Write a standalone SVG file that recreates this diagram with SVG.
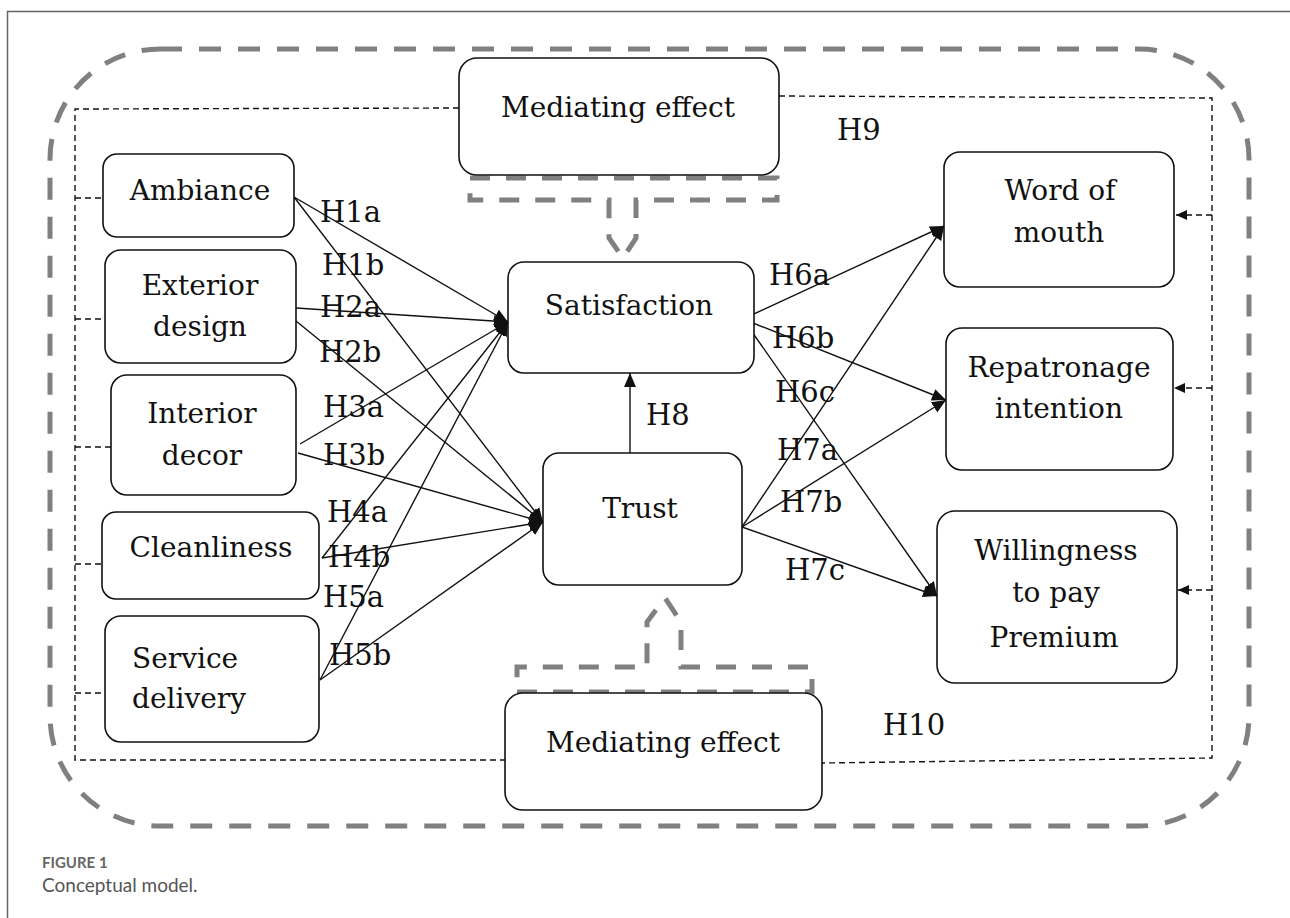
<svg xmlns="http://www.w3.org/2000/svg" width="1290" height="918" viewBox="0 0 1290 918">
<style>
.bg{fill:#fff}
.frame{fill:none;stroke:#666;stroke-width:1.5}
.outer{fill:none;stroke:#808080;stroke-width:5;stroke-dasharray:22 17}
.callout{fill:none;stroke:#808080;stroke-width:5;stroke-dasharray:20 16}
.inner{fill:none;stroke:#111;stroke-width:1.4;stroke-dasharray:6 4}
.box{fill:#fff;stroke:#111;stroke-width:1.6}
.t{font-size:28px;fill:#111}
.lbl{font-size:29px;fill:#111}
.edge{fill:none;stroke:#111;stroke-width:1.4}
.cap1{font-size:15px;font-weight:bold;fill:#666}
.cap2{font-size:19px;fill:#555}
</style>
<defs>
<marker id="ah" markerUnits="userSpaceOnUse" markerWidth="16" markerHeight="14" refX="14" refY="7" orient="auto">
<path d="M0,1 L14,7 L0,13 Z" fill="#111"/>
</marker>
<marker id="ahs" markerUnits="userSpaceOnUse" markerWidth="12" markerHeight="10" refX="11" refY="5" orient="auto">
<path d="M0,0 L11,5 L0,10 Z" fill="#111"/>
</marker>
</defs>
<rect class="bg" width="1290" height="918"/>
<path class="frame" d="M7.5,918 V11.5 H1290"/>
<rect class="outer" x="50" y="49" width="1199" height="777" rx="110" ry="110"/>

<g id="connectors">
<path class="inner" d="M459,108 L75,109 L75,760 L505,760"/>
<path class="inner" d="M779,96 L1212,98 L1212,758 L822,763"/>
<path class="inner" d="M75,198 H105 M75,319 H105 M75,447 H111 M75,564 H102 M75,693 H105"/>
<line class="inner" x1="1212" y1="215" x2="1176" y2="215" marker-end="url(#ahs)"/>
<line class="inner" x1="1212" y1="388" x2="1174" y2="388" marker-end="url(#ahs)"/>
<line class="inner" x1="1212" y1="590" x2="1178" y2="590" marker-end="url(#ahs)"/>
<path class="callout" d="M470,178 H777 V200 H636 V238 L623,258 L609,238 V200 H470 Z"/>
<path class="callout" d="M517,692 H812 V667 H681 V622 L665,598 L647,622 V667 H517 Z"/>
<line class="edge" x1="294" y1="197" x2="508" y2="322" marker-end="url(#ah)"/>
<line class="edge" x1="294" y1="197" x2="543" y2="522" marker-end="url(#ah)"/>
<line class="edge" x1="296" y1="308" x2="508" y2="322" marker-end="url(#ah)"/>
<line class="edge" x1="296" y1="321" x2="543" y2="522" marker-end="url(#ah)"/>
<line class="edge" x1="300" y1="444" x2="508" y2="322" marker-end="url(#ah)"/>
<line class="edge" x1="298" y1="453" x2="543" y2="522" marker-end="url(#ah)"/>
<line class="edge" x1="322" y1="558" x2="508" y2="322" marker-end="url(#ah)"/>
<line class="edge" x1="322" y1="558" x2="543" y2="522" marker-end="url(#ah)"/>
<line class="edge" x1="320" y1="680" x2="508" y2="322" marker-end="url(#ah)"/>
<line class="edge" x1="320" y1="680" x2="543" y2="522" marker-end="url(#ah)"/>
<line class="edge" x1="743" y1="319" x2="944" y2="226" marker-end="url(#ah)"/>
<line class="edge" x1="743" y1="319" x2="946" y2="400" marker-end="url(#ah)"/>
<line class="edge" x1="743" y1="319" x2="937" y2="596" marker-end="url(#ah)"/>
<line class="edge" x1="742" y1="527" x2="944" y2="226" marker-end="url(#ah)"/>
<line class="edge" x1="742" y1="527" x2="946" y2="400" marker-end="url(#ah)"/>
<line class="edge" x1="742" y1="527" x2="937" y2="596" marker-end="url(#ah)"/>
<line class="edge" x1="630" y1="453" x2="630" y2="373" marker-end="url(#ah)"/>
</g>

<g font-family="'DejaVu Serif', 'Liberation Serif', serif">
<g id="labels">
<text class="lbl" x="320" y="222">H1a</text>
<text class="lbl" x="322" y="275">H1b</text>
<text class="lbl" x="320" y="317">H2a</text>
<text class="lbl" x="319" y="362">H2b</text>
<text class="lbl" x="323" y="417">H3a</text>
<text class="lbl" x="323" y="465">H3b</text>
<text class="lbl" x="327" y="522">H4a</text>
<text class="lbl" x="328" y="567">H4b</text>
<text class="lbl" x="323" y="607">H5a</text>
<text class="lbl" x="329" y="665">H5b</text>
<text class="lbl" x="769" y="285">H6a</text>
<text class="lbl" x="772" y="348">H6b</text>
<text class="lbl" x="775" y="402">H6c</text>
<text class="lbl" x="777" y="460">H7a</text>
<text class="lbl" x="780" y="512">H7b</text>
<text class="lbl" x="785" y="580">H7c</text>
<text class="lbl" x="646" y="425">H8</text>
<text class="lbl" x="837" y="140">H9</text>
<text class="lbl" x="883" y="735">H10</text>
</g>

<g id="med-top">
<rect class="box" x="459" y="58" width="320" height="117" rx="18"/>
<text class="t" x="618" y="117" text-anchor="middle">Mediating effect</text>
</g>
<g id="med-bottom">
<rect class="box" x="505" y="693" width="317" height="117" rx="18"/>
<text class="t" x="663" y="752" text-anchor="middle">Mediating effect</text>
</g>
<g id="satisfaction">
<rect class="box" x="508" y="262" width="246" height="111" rx="16"/>
<text class="t" x="629" y="315" text-anchor="middle">Satisfaction</text>
</g>
<g id="trust">
<rect class="box" x="543" y="453" width="199" height="132" rx="16"/>
<text class="t" x="640" y="518" text-anchor="middle">Trust</text>
</g>
<g id="ambiance">
<rect class="box" x="103" y="154" width="191" height="83" rx="14"/>
<text class="t" x="200" y="200" text-anchor="middle">Ambiance</text>
</g>
<g id="exterior">
<rect class="box" x="105" y="250" width="191" height="113" rx="16"/>
<text class="t" x="200" y="295" text-anchor="middle">Exterior</text>
<text class="t" x="200" y="336" text-anchor="middle">design</text>
</g>
<g id="interior">
<rect class="box" x="111" y="375" width="185" height="120" rx="16"/>
<text class="t" x="202" y="423" text-anchor="middle">Interior</text>
<text class="t" x="202" y="465" text-anchor="middle">decor</text>
</g>
<g id="cleanliness">
<rect class="box" x="102" y="512" width="217" height="87" rx="14"/>
<text class="t" x="211" y="557" text-anchor="middle">Cleanliness</text>
</g>
<g id="service">
<rect class="box" x="105" y="616" width="214" height="126" rx="16"/>
<text class="t" x="132" y="668">Service</text>
<text class="t" x="132" y="708">delivery</text>
</g>
<g id="wom">
<rect class="box" x="944" y="152" width="230" height="135" rx="16"/>
<text class="t" x="1060" y="200" text-anchor="middle">Word of</text>
<text class="t" x="1059" y="242" text-anchor="middle">mouth</text>
</g>
<g id="repatronage">
<rect class="box" x="946" y="328" width="227" height="142" rx="16"/>
<text class="t" x="1059" y="377" text-anchor="middle">Repatronage</text>
<text class="t" x="1059" y="418" text-anchor="middle">intention</text>
</g>
<g id="willingness">
<rect class="box" x="937" y="511" width="240" height="172" rx="18"/>
<text class="t" x="1056" y="560" text-anchor="middle">Willingness</text>
<text class="t" x="1056" y="602" text-anchor="middle">to pay</text>
<text class="t" x="1054" y="647" text-anchor="middle">Premium</text>
</g>
</g>

<g id="caption" font-family="Lato, 'Open Sans', sans-serif">
<text class="cap1" x="42" y="868">FIGURE 1</text>
<text class="cap2" x="42" y="892">Conceptual model.</text>
</g>
</svg>
